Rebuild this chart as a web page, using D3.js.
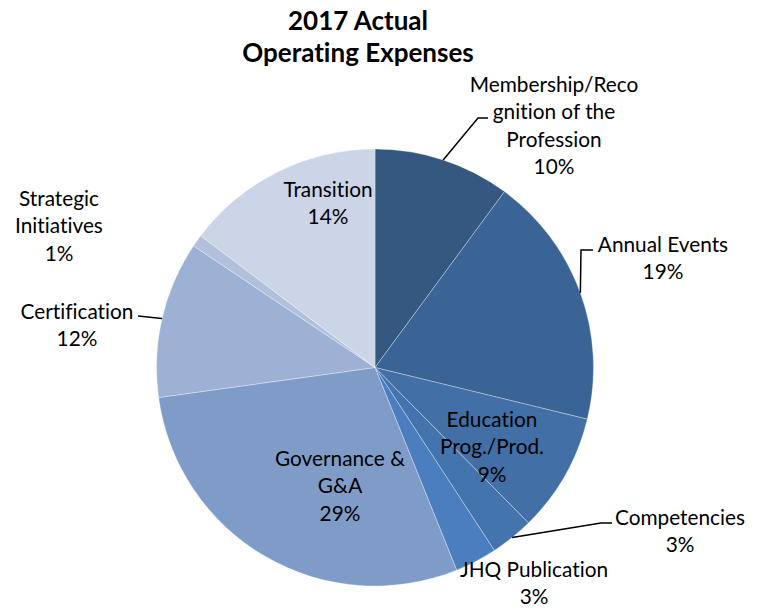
<!DOCTYPE html>
<html>
<head>
<meta charset="utf-8">
<script src="https://cdn.jsdelivr.net/npm/d3@7"></script>
<style>
  body { margin: 0; background: #fff; }
  text { font-family: Lato, "Liberation Sans", sans-serif; fill: #000; font-variant-ligatures: none; }
  .title { font-weight: bold; font-size: 26px; }
  .lbl { font-size: 20.8px; }
</style>
</head>
<body>
<svg width="764" height="608"></svg>
<script>
// slices, clockwise from 12 o'clock
const categories = ['Membership/Recognition of the Profession', 'Annual Events', 'Education Prog./Prod.',
  'Competencies', 'JHQ Publication', 'Governance & G&A', 'Certification', 'Strategic Initiatives', 'Transition'];
const values = [10.1, 18.7, 8.8, 3.2, 3.1, 28.9, 11.6, 0.9, 14.7];
const pctLabels = ['10%', '19%', '9%', '3%', '3%', '29%', '12%', '1%', '14%'];
// label text lines (as broken in the original)
const labelLines = [
  ['Membership/Reco', 'gnition of the', 'Profession'],
  ['Annual Events'],
  ['Education', 'Prog./Prod.'],
  ['Competencies'],
  ['JHQ Publication'],
  ['Governance &', 'G&A'],
  ['Certification'],
  ['Strategic', 'Initiatives'],
  ['Transition']
];
const colors = ['#34587f', '#3a6496', '#426fa5', '#4474ad', '#4a7ebf', '#7f9cc9', '#9db1d4', '#b2c0dc', '#cbd5e7'];

// label anchors (center x, first line y) and leader elbow points
const labelPos = [[554, 83], [663, 243], [492, 418], [680, 516], [534, 568], [340, 457], [77, 310], [59, 197], [328, 188]];
const leaders = { 0: [[478, 118], [488, 118]], 1: [[581, 250], [593, 250]], 3: [[601, 523], [612, 523]], 6: [[138, 316]] };

const svg = d3.select('svg');
const cx = 375, cy = 367.5, r = 218.5;
const lineH = 27.5;

// title
svg.append('text').attr('class', 'title').attr('x', 358).attr('y', 20)
  .attr('text-anchor', 'middle').attr('dominant-baseline', 'central').text('2017 Actual');
svg.append('text').attr('class', 'title').attr('x', 358).attr('y', 52)
  .attr('text-anchor', 'middle').attr('dominant-baseline', 'central').text('Operating Expenses');

const pie = d3.pie().sort(null).value(d => d);
const arcs = pie(values);
const arc = d3.arc().innerRadius(0).outerRadius(r);

const g = svg.append('g').attr('transform', `translate(${cx}, ${cy})`);

g.selectAll('path.slice')
  .data(arcs)
  .enter()
  .append('path')
  .attr('class', 'slice')
  .attr('d', arc)
  .attr('fill', (d, i) => colors[i])
  .attr('stroke', '#ffffff')
  .attr('stroke-opacity', 0.45)
  .attr('stroke-width', 0.7);

// leader lines from slice edge at mid angle
arcs.forEach((a, i) => {
  if (!leaders[i]) return;
  const mid = (a.startAngle + a.endAngle) / 2;
  const p0 = [cx + r * Math.sin(mid), cy - r * Math.cos(mid)];
  const pts = [p0].concat(leaders[i]);
  svg.append('path')
    .attr('d', d3.line()(pts))
    .attr('fill', 'none')
    .attr('stroke', '#000')
    .attr('stroke-width', 1.5);
});

// labels
labelLines.forEach((lines, i) => {
  const all = lines.concat([pctLabels[i]]);
  const t = svg.append('text').attr('class', 'lbl').attr('text-anchor', 'middle');
  all.forEach((s, k) => {
    t.append('tspan')
      .attr('x', labelPos[i][0])
      .attr('y', labelPos[i][1] + k * lineH)
      .attr('dominant-baseline', 'central')
      .text(s);
  });
});
</script>
</body>
</html>
